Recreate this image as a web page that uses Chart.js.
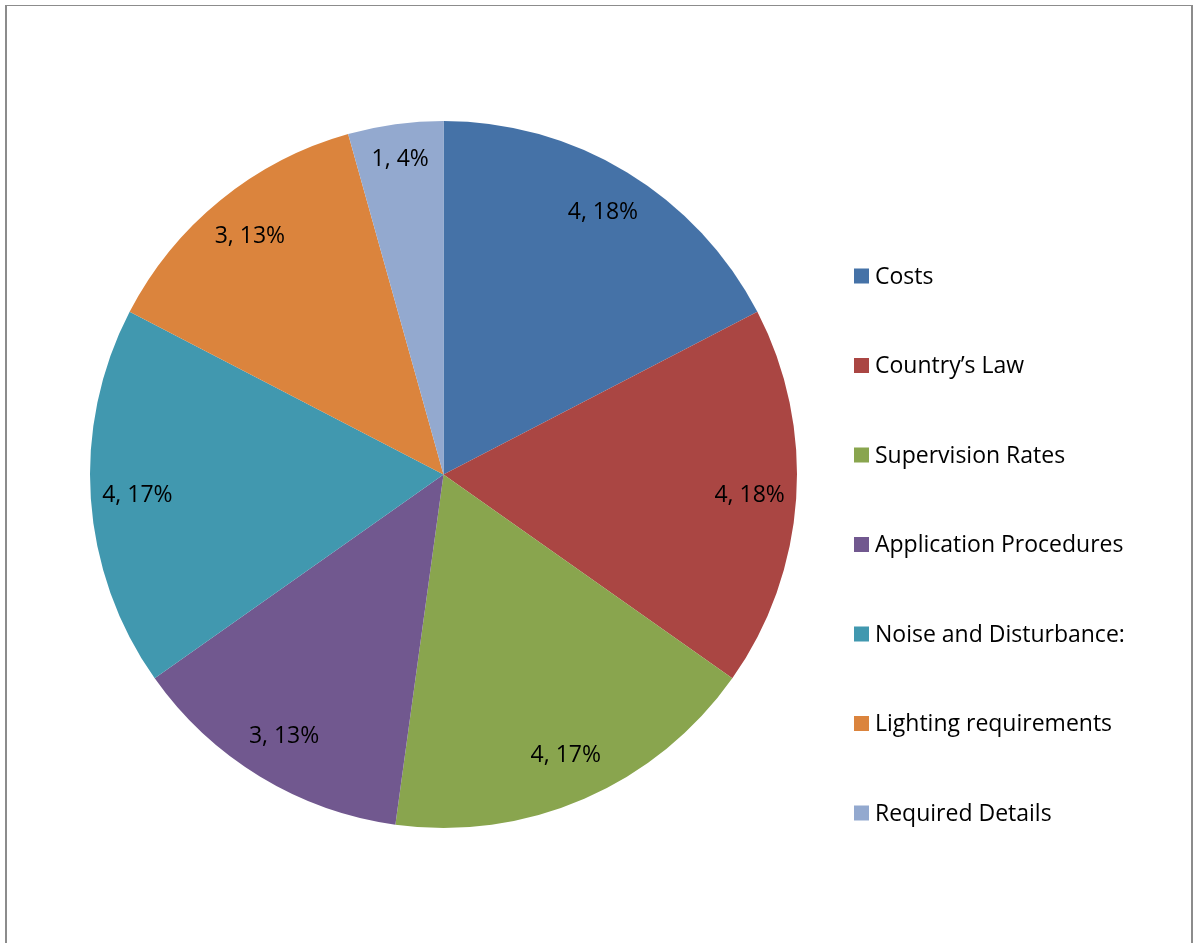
<!DOCTYPE html>
<html>
<head>
<meta charset="utf-8">
<script src="https://cdn.jsdelivr.net/npm/chart.js@4.4.1/dist/chart.umd.min.js"></script>
<style>
	html, body { margin: 0; padding: 0; background: #fff; overflow: hidden; }
	#wrap { position: relative; width: 1195px; height: 943px; }
	#frame {
		position: absolute; left: 5px; top: 5px; width: 1184px; height: 1000px;
		border-left: 2px solid #8c8c8c; border-top: 1px solid #8c8c8c; border-right: 2px solid #8c8c8c;
	}
	#pieChart { position: absolute; left: 0; top: 0; }
</style>
</head>
<body>
<div id="wrap">
	<div id="frame"></div>
	<canvas id="pieChart" width="1195" height="943"></canvas>
</div>
<script>
// data
const categories = ["Costs", "Country\u2019s Law", "Supervision Rates", "Application Procedures",
	"Noise and Disturbance:", "Lighting requirements", "Required Details"];
const counts = [4, 4, 4, 3, 4, 3, 1];
const percentLabels = ["18%", "18%", "17%", "13%", "17%", "13%", "4%"];
const sliceColors = ['#4572A7', '#AA4643', '#89A54E', '#71588F', '#4198AF', '#DB843D', '#93A9CF'];

const FONT = '23px "Open Sans", "Liberation Sans", sans-serif';

// nhãn "giá trị, %" bên trong mỗi lát
const sliceLabels = {
	id: 'sliceLabels',
	afterDatasetsDraw(chart) {
		const ctx = chart.ctx;
		const meta = chart.getDatasetMeta(0);
		ctx.save();
		ctx.font = FONT;
		ctx.fillStyle = '#000';
		ctx.textAlign = 'center';
		ctx.textBaseline = 'middle';
		meta.data.forEach((arc, i) => {
			const p = arc.getProps(['x', 'y', 'startAngle', 'endAngle', 'outerRadius'], true);
			const mid = (p.startAngle + p.endAngle) / 2;
			// lát nhỏ: nhãn đặt sát mép hơn
			const r = p.outerRadius * (counts[i] < 2 ? 0.9 : 0.868);
			ctx.fillText(counts[i] + ', ' + percentLabels[i], p.x + Math.cos(mid) * r, p.y + Math.sin(mid) * r);
		});
		ctx.restore();
	}
};

// legend bên phải
const sideLegend = {
	id: 'sideLegend',
	afterDraw(chart, args, opts) {
		const ctx = chart.ctx;
		ctx.save();
		ctx.font = FONT;
		ctx.textBaseline = 'middle';
		ctx.textAlign = 'left';
		chart.data.labels.forEach((label, i) => {
			const y = opts.top + i * opts.step;
			ctx.fillStyle = chart.data.datasets[0].backgroundColor[i];
			ctx.fillRect(opts.x, y - 7.5, 15, 15);
			ctx.fillStyle = '#000';
			ctx.fillText(label, opts.x + 21, y + 1);
		});
		ctx.restore();
	}
};

const ctx = document.getElementById('pieChart').getContext('2d');
const pieChart = new Chart(ctx, {
	type: 'pie',
	data: {
		labels: categories,
		datasets: [{
			data: counts,
			backgroundColor: sliceColors,
			borderWidth: 0
		}]
	},
	options: {
		responsive: false,
		animation: false,
		radius: 353.5,
		layout: { padding: { left: 0, right: 308, top: 6, bottom: 0 } },
		plugins: {
			legend: { display: false },
			tooltip: { enabled: false },
			sideLegend: { x: 854, top: 276, step: 89.5 }
		}
	},
	plugins: [sliceLabels, sideLegend]
});
</script>
</body>
</html>
